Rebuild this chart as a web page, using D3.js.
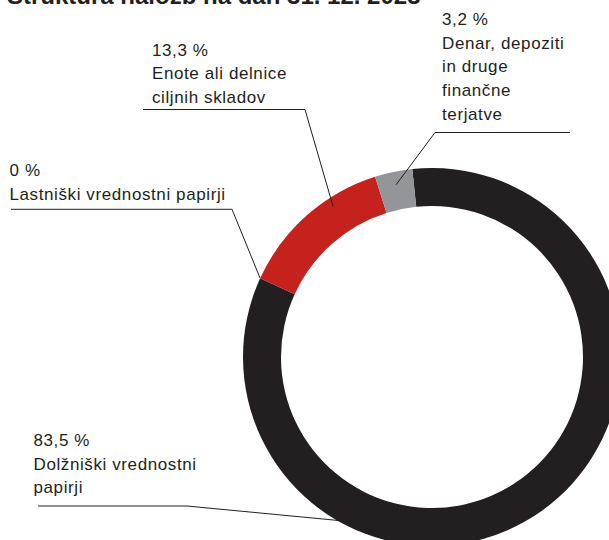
<!DOCTYPE html>
<html>
<head>
<meta charset="utf-8">
<script src="https://cdn.jsdelivr.net/npm/d3@7"></script>
<style>
  body { margin: 0; background: #fff; }
  text { font-family: "Liberation Sans", Arial, sans-serif; fill: #231f20; }
  .label { font-size: 17px; letter-spacing: 0.6px; }
  .title { font-size: 24px; font-weight: bold; }
</style>
</head>
<body>
<div id="chart"></div>
<script>
// data
var categories = ["Dolžniški vrednostni papirji", "Lastniški vrednostni papirji",
                  "Enote ali delnice ciljnih skladov", "Denar, depoziti in druge finančne terjatve"];
var labelLines = [["Dolžniški vrednostni", "papirji"],
                  ["Lastniški vrednostni papirji"],
                  ["Enote ali delnice", "ciljnih skladov"],
                  ["Denar, depoziti", "in druge", "finančne", "terjatve"]];
var values = [83.5, 0, 13.3, 3.2];
var colors = ["#231f20", "#231f20", "#c5221d", "#939598"];

// label layout (text block + elbow of the leader line)
var layout = [
  {x: 33.5, y: 446, lineX1: 38,  lineX2: 187, lineY: 506,   along: 0.717, r: 188},
  {x: 9.5,  y: 176, lineX1: 11,  lineX2: 232, lineY: 209.3, along: 0,     r: 189},
  {x: 152,  y: 55.7, lineX1: 143, lineX2: 305, lineY: 109.5, along: 0.67,  r: 180},
  {x: 442,  y: 25,  lineX1: 570, lineX2: 435, lineY: 132.5, along: 0.5,   r: 176}
];

var width = 609, height = 540;
var cx = 432, cy = 357, outerR = 189, innerR = 151;
var lineHeight = 23.7;

var svg = d3.select("#chart")
  .append("svg")
    .attr("width", width)
    .attr("height", height);

svg.append("text")
  .attr("class", "title")
  .attr("x", 7)
  .attr("y", 3.5)
  .text("Struktura naložb na dan 31. 12. 2023");

var startA = -6 * Math.PI / 180;
var pie = d3.pie()
  .sort(null)
  .value(d => d)
  .startAngle(startA)
  .endAngle(startA + 2 * Math.PI);

var arcs = pie(values);

var arc = d3.arc()
  .innerRadius(innerR)
  .outerRadius(outerR);

var g = svg.append("g")
  .attr("transform", "translate(" + cx + "," + cy + ")");

g.selectAll("path")
  .data(arcs)
  .enter()
  .append("path")
    .attr("d", arc)
    .attr("fill", (d, i) => colors[i]);

var fmt = d3.format(".1f");
function pct(v) {
  return (v === 0 ? "0" : fmt(v).replace(".", ",")) + " %";
}

// leader lines
function anchor(i) {
  var a = arcs[i], L = layout[i];
  var ang = a.startAngle + (a.endAngle - a.startAngle) * L.along;
  return [cx + L.r * Math.sin(ang), cy - L.r * Math.cos(ang)];
}

svg.append("g")
  .selectAll("polyline")
  .data(layout)
  .enter()
  .append("polyline")
    .attr("points", function(L, i) {
      var p = anchor(i);
      return [[L.lineX1, L.lineY], [L.lineX2, L.lineY], p].map(q => q.join(",")).join(" ");
    })
    .attr("fill", "none")
    .attr("stroke", "#231f20")
    .attr("stroke-width", 1);

// labels
var labels = svg.append("g")
  .selectAll("text")
  .data(layout)
  .enter()
  .append("text")
    .attr("class", "label")
    .attr("x", d => d.x)
    .attr("y", d => d.y);

labels.each(function(L, i) {
  var lines = [pct(values[i])].concat(labelLines[i]);
  d3.select(this).selectAll("tspan")
    .data(lines)
    .enter()
    .append("tspan")
      .attr("x", L.x)
      .attr("dy", (d, j) => j === 0 ? 0 : lineHeight)
      .text(d => d);
});
</script>
</body>
</html>
